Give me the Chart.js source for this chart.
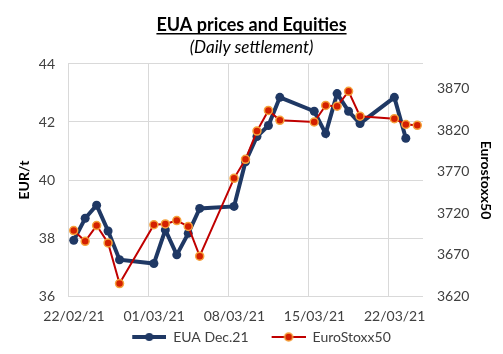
<!DOCTYPE html>
<html>
<head>
<meta charset="utf-8">
<script src="https://cdn.jsdelivr.net/npm/chart.js@4"></script>
<style>
  html, body { margin: 0; padding: 0; background: #fff; }
</style>
</head>
<body>
<canvas id="chart" width="503" height="354"></canvas>
<script>
// EUA Dec.21 settlement (EUR/t)
const euaDates = ['22/02/21', '23/02/21', '24/02/21', '25/02/21', '26/02/21',
  '01/03/21', '02/03/21', '03/03/21', '04/03/21', '05/03/21',
  '08/03/21', '09/03/21', '10/03/21', '11/03/21', '12/03/21',
  '15/03/21', '16/03/21', '17/03/21', '18/03/21', '19/03/21',
  '22/03/21', '23/03/21'];
const euaValues = [37.92, 38.68, 39.13, 38.24, 37.25,
  37.12, 38.28, 37.42, 38.16, 39.02,
  39.09, 40.63, 41.50, 41.88, 42.85,
  42.37, 41.60, 42.98, 42.37, 41.95,
  42.85, 41.44];

// EuroStoxx50 close
const stoxxDates = ['22/02/21', '23/02/21', '24/02/21', '25/02/21', '26/02/21',
  '01/03/21', '02/03/21', '03/03/21', '04/03/21', '05/03/21',
  '08/03/21', '09/03/21', '10/03/21', '11/03/21', '12/03/21',
  '15/03/21', '16/03/21', '17/03/21', '18/03/21', '19/03/21',
  '22/03/21', '23/03/21', '24/03/21'];
const stoxxValues = [3699, 3686, 3705, 3684, 3635,
  3706, 3707, 3711, 3704, 3668,
  3762, 3785, 3819, 3844, 3832,
  3830, 3850, 3849, 3867, 3837,
  3834, 3827, 3826];

const xTickDates = ['22/02/21', '01/03/21', '08/03/21', '15/03/21', '22/03/21'];
const leftTicks = [36, 38, 40, 42, 44];
const rightTicks = [3620, 3670, 3720, 3770, 3820, 3870];

const FONT = 'Lato, "Open Sans", sans-serif';
const TEXT = '#404040';
const GRID = '#d9d9d9';
const ICON_GAP = 20; // blank room left of each legend icon

function dayIndex(s) {
  const [d, m, y] = s.split('/').map(Number);
  return (Date.UTC(2000 + y, m - 1, d) - Date.UTC(2021, 1, 22)) / 86400000;
}

// little line+marker picture for the legend, like Excel's
function legendIcon(ds) {
  const c = document.createElement('canvas');
  c.width = 34 + ICON_GAP; c.height = 12;
  const g = c.getContext('2d');
  g.strokeStyle = ds.borderColor;
  g.lineWidth = ds.borderWidth;
  g.beginPath(); g.moveTo(ICON_GAP, 6); g.lineTo(ICON_GAP + 34, 6); g.stroke();
  g.beginPath(); g.arc(ICON_GAP + 17, 6, 4, 0, Math.PI * 2);
  g.fillStyle = ds.pointBackgroundColor; g.fill();
  if (ds.pointBorderWidth) {
    g.lineWidth = ds.pointBorderWidth; g.strokeStyle = ds.pointBorderColor; g.stroke();
  }
  return c;
}

const underlineTitle = {
  id: 'underlineTitle',
  afterDraw(chart) {
    const tb = chart.titleBlock;
    if (!tb) return;
    const ctx = chart.ctx;
    const opts = tb.options;
    ctx.save();
    ctx.font = Chart.helpers.toFont(opts.font).string;
    const w = ctx.measureText(opts.text).width;
    const cx = (tb.left + tb.right) / 2;
    const y = tb.top + opts.padding.top + opts.font.size * 1.2 / 2 + opts.font.size * 0.5;
    ctx.strokeStyle = '#000';
    ctx.lineWidth = 1.4;
    ctx.beginPath();
    ctx.moveTo(cx - w / 2, y);
    ctx.lineTo(cx + w / 2, y);
    ctx.stroke();
    ctx.restore();
  }
};

const xMin = dayIndex(stoxxDates[0]) - 0.5;
const xMax = dayIndex(stoxxDates[stoxxDates.length - 1]) + 0.5;

new Chart(document.getElementById('chart'), {
  type: 'line',
  data: {
    datasets: [{
      label: 'EUA Dec.21',
      data: euaDates.map((d, i) => ({x: dayIndex(d), y: euaValues[i]})),
      yAxisID: 'y',
      borderColor: '#1F3864',
      backgroundColor: '#1F3864',
      borderWidth: 4,
      pointRadius: 4.5,
      pointBackgroundColor: '#1F3864',
      pointBorderColor: '#1F3864',
      pointBorderWidth: 0,
      tension: 0,
      order: 1
    }, {
      label: 'EuroStoxx50',
      data: stoxxDates.map((d, i) => ({x: dayIndex(d), y: stoxxValues[i]})),
      yAxisID: 'y1',
      borderColor: '#C00000',
      backgroundColor: '#C00000',
      borderWidth: 2,
      pointRadius: 4,
      pointBackgroundColor: '#D42000',
      pointBorderColor: '#F6A33C',
      pointBorderWidth: 1.5,
      tension: 0,
      order: 0
    }]
  },
  options: {
    responsive: false,
    animation: false,
    layout: {padding: {left: 0, right: 0, top: 14, bottom: 0}},
    scales: {
      x: {
        type: 'linear',
        min: xMin,
        max: xMax,
        afterBuildTicks: s => { s.ticks = xTickDates.map(d => ({value: dayIndex(d) - 0.5})); },
        afterFit: s => { s.height = 31; },
        ticks: {
          callback: (v, i) => xTickDates[i],
          autoSkip: false,
          maxRotation: 0,
          labelOffset: 6,
          padding: 12,
          color: TEXT,
          font: {family: FONT, size: 14}
        },
        grid: {color: GRID, drawTicks: false},
        border: {display: false}
      },
      y: {
        position: 'left',
        min: 36,
        max: 44,
        afterBuildTicks: s => { s.ticks = leftTicks.map(v => ({value: v})); },
        afterFit: s => { s.width = 68; },
        ticks: {padding: 13, color: TEXT, font: {family: FONT, size: 14}},
        grid: {color: GRID, drawTicks: false},
        border: {display: false},
        title: {display: true, text: 'EUR/t', color: '#000', padding: {top: 16, bottom: 0},
          font: {family: FONT, size: 14, weight: 'bold'}}
      },
      y1: {
        position: 'right',
        min: 3620,
        max: 3900,
        afterBuildTicks: s => { s.ticks = rightTicks.map(v => ({value: v})); },
        afterFit: s => { s.width = 80; },
        ticks: {
          callback: v => String(v),
          padding: 14, color: TEXT, font: {family: FONT, size: 14}
        },
        grid: {display: false, drawTicks: false},
        border: {display: false},
        title: {display: true, text: 'Eurostoxx50', color: '#000', padding: {top: 9, bottom: 0},
          font: {family: FONT, size: 14, weight: 'bold'}}
      }
    },
    plugins: {
      title: {
        display: true,
        text: 'EUA prices and Equities',
        color: '#000',
        padding: {top: 0, bottom: 2},
        font: {family: FONT, size: 18, weight: 'bold'}
      },
      subtitle: {
        display: true,
        text: '(Daily settlement)',
        color: '#000',
        padding: {top: 0, bottom: 6},
        font: {family: FONT, size: 17, style: 'italic'}
      },
      legend: {
        position: 'bottom',
        labels: {
          usePointStyle: true,
          pointStyleWidth: 34 + ICON_GAP,
          padding: 3,
          color: TEXT,
          font: {family: FONT, size: 14},
          generateLabels: chart => chart.data.datasets.map((ds, i) => ({
            text: ds.label,
            pointStyle: legendIcon(ds),
            fillStyle: ds.borderColor,
            strokeStyle: ds.borderColor,
            lineWidth: 0,
            fontColor: TEXT,
            hidden: false,
            datasetIndex: i
          }))
        }
      },
      tooltip: {enabled: false}
    }
  },
  plugins: [underlineTitle]
});
</script>
</body>
</html>
